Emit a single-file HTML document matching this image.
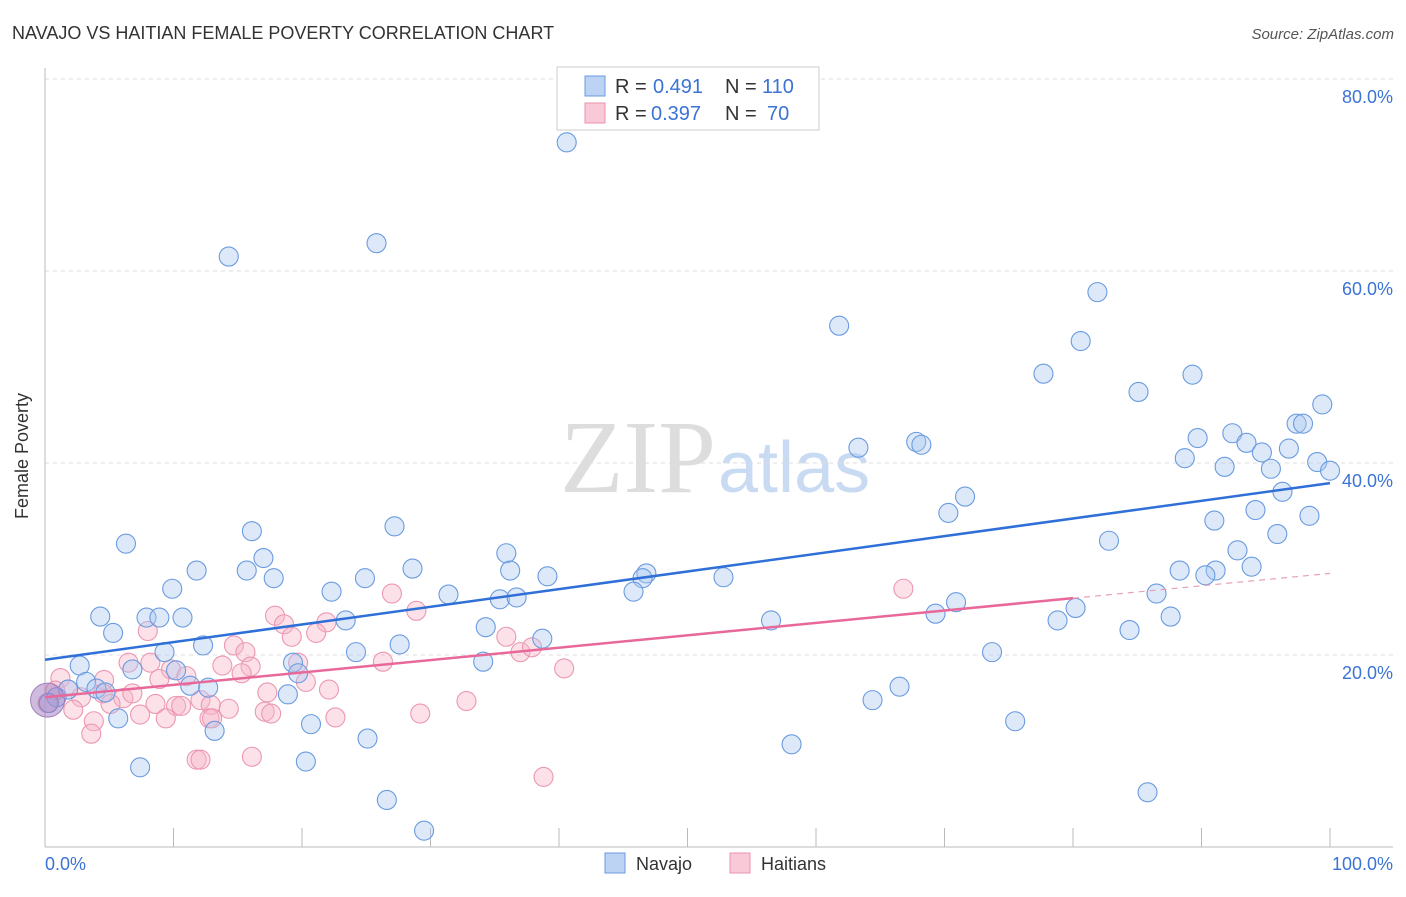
<!DOCTYPE html>
<html><head><meta charset="utf-8"><style>
body{margin:0;background:#fff;font-family:"Liberation Sans",sans-serif}
</style></head><body>
<svg id="c" width="1406" height="892" xmlns="http://www.w3.org/2000/svg">
<text x="12" y="39" font-size="18" fill="#333">NAVAJO VS HAITIAN FEMALE POVERTY CORRELATION CHART</text>
<text x="1394" y="39" font-size="15" fill="#555" font-style="italic" text-anchor="end">Source: ZipAtlas.com</text>
<text x="716" y="492" font-size="104" fill="#ddd" text-anchor="end" font-family="Liberation Serif,serif">ZIP</text>
<text x="718" y="492" font-size="72" fill="#c9daf3">atlas</text>
<g id="grid"></g><g id="pts"></g><g id="lines"></g>
<text x="28" y="456" font-size="18" fill="#333" transform="rotate(-90 28 456)" text-anchor="middle">Female Poverty</text>
<text x="45" y="870" font-size="18" fill="#3b73d6">0.0%</text>
<text x="1393" y="870" font-size="18" fill="#3b73d6" text-anchor="end">100.0%</text>
<g>
<rect x="557" y="67" width="262" height="63" fill="#fff" stroke="#ccc"/>
<rect x="585" y="76" width="20" height="20" fill="#bcd3f4" stroke="#6a9be0"/>
<rect x="585" y="103" width="20" height="20" fill="#f9c9d8" stroke="#ea92ae"/>
<text x="615" y="93" font-size="20" fill="#333">R =</text>
<text x="653" y="93" font-size="20" fill="#3b73d6">0.491</text>
<text x="725" y="93" font-size="20" fill="#333">N =</text>
<text x="762" y="93" font-size="20" fill="#3b73d6">110</text>
<text x="615" y="120" font-size="20" fill="#333">R =</text>
<text x="651" y="120" font-size="20" fill="#3b73d6">0.397</text>
<text x="725" y="120" font-size="20" fill="#333">N =</text>
<text x="767" y="120" font-size="20" fill="#3b73d6">70</text>
</g>
<g>
<rect x="605" y="853" width="20" height="20" fill="#bcd3f4" stroke="#6a9be0"/>
<text x="636" y="870" font-size="18" fill="#333">Navajo</text>
<rect x="730" y="853" width="20" height="20" fill="#f9c9d8" stroke="#ea92ae"/>
<text x="761" y="870" font-size="18" fill="#333">Haitians</text>
</g>
</svg>
<script>
const yTicks=[20,40,60,80];
const navX=[40.6,14.3,25.8,81.9,61.8,80.6,77.7,89.3,85.1,99.4,97.4,97.9,92.4,89.7,93.5,67.8,68.2,63.3,94.7,96.8,88.7,99.0,91.8,95.4,100,96.3,71.6,70.3,94.2,98.4,91.0,95.9,27.2,16.1,6.3,82.8,92.8,17.0,35.9,11.8,15.7,88.3,91.1,93.9,17.8,24.9,28.6,36.2,39.1,46.8,46.5,52.8,90.3,9.9,22.3,31.4,45.8,35.4,36.7,70.9,86.5,4.3,80.2,69.3,87.6,7.9,8.9,10.7,23.4,56.5,78.8,5.3,34.3,84.4,38.7,27.6,12.3,9.3,24.2,73.7,2.7,19.3,34.1,6.8,10.2,19.7,1.8,3.2,4.0,4.7,11.3,12.7,18.9,66.5,64.4,0.9,0.3,5.7,20.7,13.2,75.5,25.1,58.1,7.4,20.3,26.6,85.8,29.5];
const navY=[73.4,61.5,62.9,57.8,54.3,52.7,49.3,49.2,47.4,46.1,44.1,44.1,43.1,42.6,42.1,42.2,41.9,41.6,41.1,41.5,40.5,40.1,39.6,39.4,39.2,37.0,36.5,34.8,35.1,34.5,34.0,32.6,33.4,32.9,31.6,31.9,30.9,30.1,30.6,28.8,28.8,28.8,28.8,29.2,28.0,28.0,29.0,28.8,28.2,28.5,28.0,28.1,28.3,26.9,26.6,26.3,26.6,25.8,26.0,25.5,26.4,24.0,24.9,24.3,24.0,23.9,23.9,23.9,23.6,23.6,23.6,22.3,22.9,22.6,21.7,21.1,21.0,20.3,20.3,20.3,18.9,19.2,19.3,18.5,18.4,18.1,16.4,17.2,16.5,16.1,16.8,16.6,15.9,16.7,15.3,15.6,15.0,13.4,12.8,12.1,13.1,11.3,10.7,8.3,8.9,4.9,5.7,1.7];
const haiX=[66.8,27.0,17.9,18.6,21.9,28.9,8.0,19.2,21.1,35.9,14.7,15.6,37.0,37.9,6.5,8.2,9.8,16.0,19.7,26.3,40.4,1.2,4.6,8.9,11.0,13.8,15.3,20.3,1.8,4.5,6.1,6.8,17.3,22.1,2.8,5.1,8.6,10.2,10.6,12.1,12.9,14.3,32.8,2.2,7.4,9.4,12.8,17.1,17.6,22.6,29.2,3.8,13.0,3.6,11.8,12.1,16.1,38.8,0.8,0.2];
const haiY=[26.9,26.4,24.1,23.2,23.4,24.6,22.5,21.9,22.3,21.9,21.0,20.3,20.3,20.8,19.2,19.2,18.5,18.8,19.2,19.3,18.6,17.6,17.4,17.5,17.8,18.9,18.1,17.2,16.4,16.0,15.5,16.0,16.1,16.4,15.6,14.9,14.9,14.7,14.7,15.3,14.8,14.4,15.2,14.3,13.8,13.4,13.4,14.1,13.9,13.5,13.9,13.1,13.4,11.8,9.1,9.1,9.4,7.3,16.3,15.0];
const navTrend=[19.5,37.9];
const haiTrend=[15.6,28.5];
const haiSolidEnd=80;
const X=v=>45+v*12.85, Y=v=>847-v*9.6;
const NS="http://www.w3.org/2000/svg";
function mk(t,a,p){const e=document.createElementNS(NS,t);for(const k in a)e.setAttribute(k,a[k]);p.appendChild(e);return e;}
const grid=document.getElementById('grid');
yTicks.forEach(t=>{
 const l=mk('line',{x1:45,x2:1393,y1:Y(t),y2:Y(t),stroke:'#ddd','stroke-dasharray':'4 4'},grid);
 
 
 const tx=mk('text',{x:1393,y:Y(t)+24,'font-size':18,fill:'#3b73d6','text-anchor':'end'},grid);
 tx.textContent=t.toFixed(1)+'%';
 
 
});
mk('line',{x1:45,x2:1393,y1:847,y2:847,stroke:'#bbb'},grid);
mk('line',{x1:45,x2:45,y1:68,y2:847,stroke:'#bbb'},grid);
for(let k=1;k<=10;k++){const t=mk('line',{x1:X(k*10),x2:X(k*10),y1:828,y2:847,stroke:'#bbb'},grid);
 
 }
const pts=document.getElementById('pts');
haiX.forEach((x,i)=>{const c=mk('circle',{cx:X(x),cy:Y(haiY[i]),r:9.5,fill:'rgba(248,180,200,0.4)',stroke:'#ec97b2','stroke-width':1.1},pts);
 
 });
navX.forEach((x,i)=>{const c=mk('circle',{cx:X(x),cy:Y(navY[i]),r:9.5,fill:'rgba(170,200,240,0.4)',stroke:'#6a9be0','stroke-width':1.1},pts);
 
 });
const big=mk('circle',{cx:X(0.2),cy:Y(15.3),r:17,fill:'rgba(160,120,190,0.5)',stroke:'#a080c0'},pts);


const lines=document.getElementById('lines');
const nl=mk('line',{x1:X(0),y1:Y(navTrend[0]),x2:X(100),y2:Y(navTrend[1]),stroke:'#2f6fd8','stroke-width':2.5},lines);


const hm=haiTrend[0]+(haiTrend[1]-haiTrend[0])*haiSolidEnd/100;
const hl=mk('line',{x1:X(0),y1:Y(haiTrend[0]),x2:X(haiSolidEnd),y2:Y(hm),stroke:'#e8689a','stroke-width':2.5},lines);


const hd=mk('line',{x1:X(haiSolidEnd),y1:Y(hm),x2:X(100),y2:Y(haiTrend[1]),stroke:'#e8a0b8','stroke-width':1.2,'stroke-dasharray':'6 5'},lines);


</script>
</body></html>
